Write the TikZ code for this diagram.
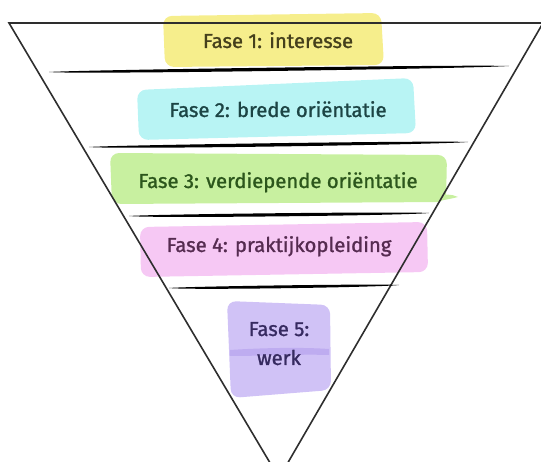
\documentclass[tikz,border=0pt]{standalone}
\usepackage{fontspec}
\setmainfont{Fira Sans}
\newfontfamily\phasefont{Fira Sans}[FakeBold=1.2]
\definecolor{yelfill}{HTML}{F6EE8C}
\definecolor{yeltext}{HTML}{45401C}
\definecolor{cyafill}{HTML}{B8F4F4}
\definecolor{cyatext}{HTML}{1C4444}
\definecolor{grnfill}{HTML}{C8F0A0}
\definecolor{grntext}{HTML}{2C561C}
\definecolor{pnkfill}{HTML}{F6C8F4}
\definecolor{pnktext}{HTML}{552B50}
\definecolor{purfill}{HTML}{D0C2F6}
\definecolor{purdark}{HTML}{BEACF0}
\definecolor{purtext}{HTML}{362A60}
\definecolor{funnel}{HTML}{2E2E2E}
\tikzset{
  phase/.style={anchor=base, inner sep=0pt, font=\phasefont\fontsize{20.3}{24}\selectfont},
  blob/.style={rounded corners=9pt},
  funnelline/.style={draw=funnel, line width=1.6pt},
  marker/.style={fill=black}
}
\begin{document}
\begin{tikzpicture}[x=1pt,y=-1pt]
\useasboundingbox (0,0) rectangle (541,462);
\begin{scope}
\clip (0,0) rectangle (541,462);
% highlight blobs
\fill[yelfill, blob] (163,16) -- (381,13) -- (384,65) -- (165,67) -- cycle;
\fill[cyafill, blob] (137,90) -- (413,78) -- (416,133) -- (139,140) -- cycle;
\fill[grnfill, blob] (110,153) -- (447,155) -- (446,202) -- (112,204) -- cycle;
\fill[grnfill] (430,196) .. controls (445,194) and (452,194) .. (458,197) .. controls (450,199) and (440,201) .. (430,202) -- cycle;
\fill[pnkfill, blob] (140,227) -- (427,222) -- (428,272) -- (141,277) -- cycle;
\fill[purfill, blob] (227,301) -- (330,305) -- (331,390) -- (231,398) -- cycle;
\fill[purdark] (230,350) .. controls (260,348) and (300,347) .. (329,349) -- (329,355) .. controls (300,354) and (260,356) .. (230,356) -- cycle;
% funnel
\coordinate (tl) at (9,23);
\coordinate (tr) at (543,23);
\coordinate (apex) at (279,478);
\draw[funnelline, line join=miter] (apex) -- (tl) -- (tr) -- cycle;
% marker lines
\fill[marker] (49,72) .. controls (75,70) and (470,64.4) .. (509,66) .. controls (470,68.6) and (75,74.6) .. (49,72) -- cycle;
\fill[marker] (89,147) .. controls (115,145) and (440,140.4) .. (468,142) .. controls (440,144.6) and (115,149.6) .. (89,147) -- cycle;
\fill[marker] (129,216) .. controls (150,214.2) and (405,211.4) .. (429,213) .. controls (405,215.6) and (150,218.4) .. (129,216) -- cycle;
\fill[marker] (169,288) .. controls (185,286.4) and (380,283.6) .. (399,285) .. controls (380,287.4) and (185,290.2) .. (169,288) -- cycle;
\end{scope}
% labels
\node[phase, text=yeltext] (f1) at (278,48) {Fase 1: interesse};
\node[phase, text=cyatext] (f2) at (278,117) {Fase 2: brede oriëntatie};
\node[phase, text=grntext] (f3) at (278,188) {Fase 3: verdiepende oriëntatie};
\node[phase, text=pnktext] (f4) at (279,252) {Fase 4: praktijkopleiding};
\node[phase, text=purtext] (f5a) at (279,336) {Fase 5:};
\node[phase, text=purtext] (f5b) at (279,365) {werk};
\end{tikzpicture}
\end{document}
